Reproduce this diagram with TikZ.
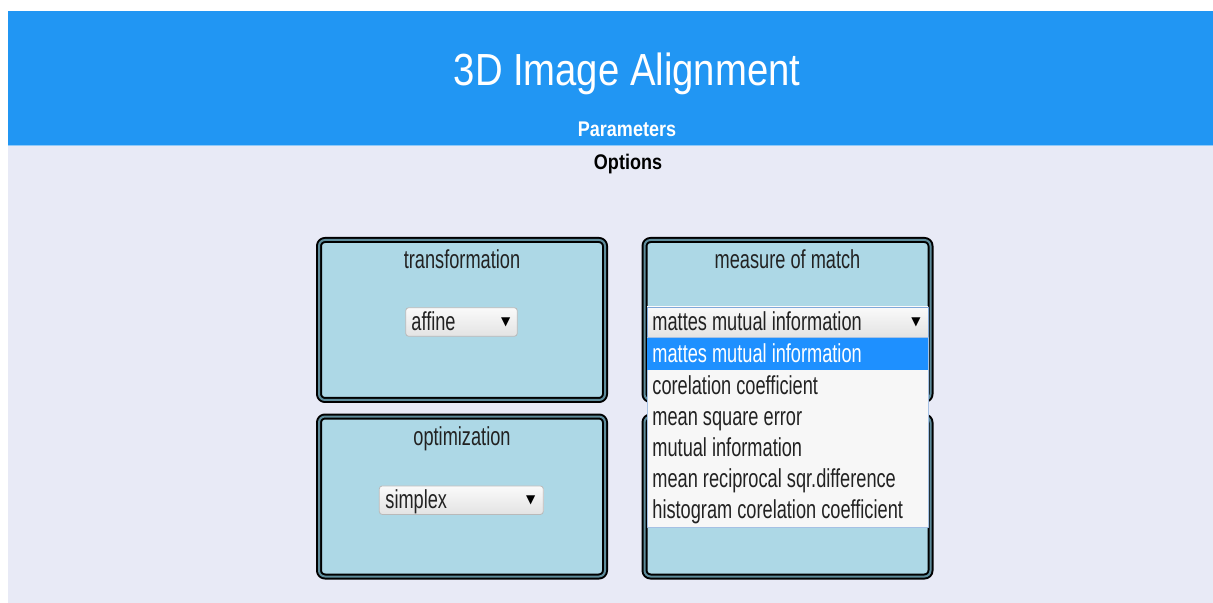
\documentclass[tikz,border=0pt]{standalone}
\usepackage{fontspec}
\setmainfont{Liberation Sans}
\newfontfamily\uifont[FakeStretch=0.7]{Liberation Sans}
\newfontfamily\headfont[FakeStretch=0.85]{Liberation Sans}
\newfontfamily\symfont{DejaVu Sans}
\definecolor{bandblue}{HTML}{2196F3}
\definecolor{bandline}{HTML}{90CAF9}
\definecolor{pagebg}{HTML}{E8EAF6}
\definecolor{panelblue}{HTML}{ADD8E6}
\definecolor{ringgray}{HTML}{5E8C9B}
\definecolor{hilite}{HTML}{1E90FF}
\definecolor{listbg}{HTML}{F7F7F7}
\definecolor{focusblue}{HTML}{7FA7D9}
\definecolor{textdark}{HTML}{222222}
\begin{document}
\begin{tikzpicture}[x=0.5pt, y=-0.5pt, line join=round,
	panel/.style={draw=black, line width=1pt, double=ringgray, double distance=1pt, fill=panelblue, rounded corners=3pt, minimum width=143pt, minimum height=80pt, inner sep=0pt},
	selectbox/.style={draw=gray!55, top color=white!96!gray, bottom color=gray!22, rounded corners=1.5pt, inner sep=0pt, minimum height=14.3pt},
	lbl/.style={font=\uifont\fontsize{13}{15}\selectfont, text=textdark, anchor=base, inner sep=0pt},
	item/.style={lbl, anchor=base west},
	tri/.style={font=\symfont\fontsize{6}{6}\selectfont, text=black, inner sep=0pt}]
	\useasboundingbox (0,0) rectangle (1213,603);
	\fill[white] (0,0) rectangle (1213,603);
	\fill[bandblue] (8,11) rectangle (1213,145);
	\fill[pagebg] (8,146) rectangle (1213,603);
	\draw[bandline, line width=0.5pt] (8,145.5) -- (1213,145.5);
	\node[font=\headfont\fontsize{22.5}{26}\selectfont, text=white, anchor=base, inner sep=0pt] (title) at (627,86) {3D Image Alignment};
	\node[font=\headfont\bfseries\fontsize{10.6}{12}\selectfont, text=white, anchor=base, inner sep=0pt] (params) at (627,137) {Parameters};
	\node[font=\headfont\bfseries\fontsize{10.6}{12}\selectfont, text=black, anchor=base, inner sep=0pt] (options) at (628,170) {Options};
	\foreach \n/\x/\y in {trans/462/320, meas/787.5/320, optim/462/496.5, spare/787.5/496.5}
	\node[panel] (\n) at (\x,\y) {};
	\node[lbl] (transhead) at (462,269) {transformation};
	\node[lbl] (meashead) at (787.5,269) {measure of match};
	\node[lbl] (optimhead) at (462,445) {optimization};
	% select boxes
	\node[selectbox, minimum width=55.8pt] (affinesel) at (461.5,322) {};
	\node[item] (affine) at (411,330.5) {affine};
	\node[tri] (affinetri) at (505.7,322) {▼};
	\node[selectbox, minimum width=82pt] (simplexsel) at (461.3,500.2) {};
	\node[item] (simplex) at (385,508.5) {simplex};
	\node[tri] (simplextri) at (530.7,500) {▼};
	\node[selectbox, draw=focusblue, rounded corners=0pt, minimum width=140.5pt, minimum height=15pt] (meassel) at (787.5,322) {};
	\node[item] (mattes) at (652,331) {mattes mutual information};
	\node[tri] (meastri) at (916,322) {▼};
	% open list
	\node[draw=focusblue!70, line width=0.4pt, fill=listbg, minimum width=140.5pt, minimum height=95pt, inner sep=0pt] (droplist) at (787.5,432) {};
	\node[fill=hilite, minimum width=140.5pt, minimum height=16pt, inner sep=0pt] (hirow) at (787.5,354) {};
	\node[item, text=white] (opt0) at (652,363) {mattes mutual information};
	\foreach \txt [count=\i] in {corelation coefficient, mean square error, mutual information, mean reciprocal sqr.difference, histogram corelation coefficient}
	\node[item] (opt\i) at (652,{363+31*\i}) {\txt};
\end{tikzpicture}
\end{document}
